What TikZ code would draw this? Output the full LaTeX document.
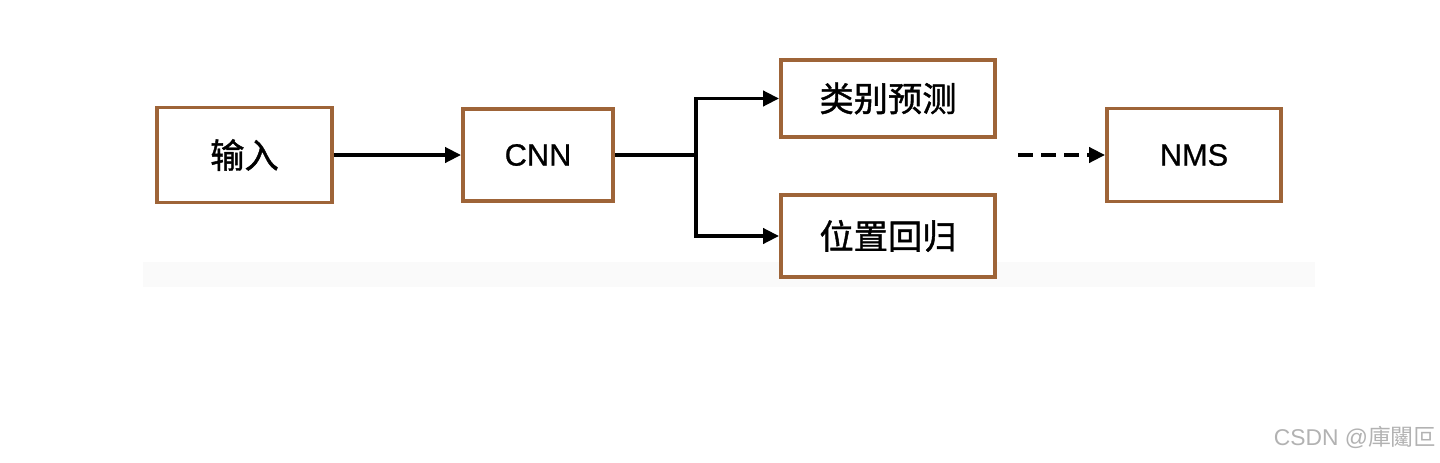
\documentclass[tikz,border=0pt]{standalone}
\usepackage{fontspec}
\setmainfont{Liberation Sans}
\newfontfamily\cjk{Noto Sans CJK SC}[FakeBold=1.2]
\newfontfamily\latn{Liberation Sans}[FakeBold=0.8]
\newfontfamily\cjktc{Noto Sans CJK TC}
\usetikzlibrary{positioning}
\usetikzlibrary{calc}
\usetikzlibrary{arrows.meta}
\definecolor{boxbrown}{RGB}{158,100,56}

\begin{document}
\begin{tikzpicture}[x=0.02cm, y=-0.02cm,
    stage/.style={draw=boxbrown, line width=2.2pt, fill=white, inner sep=0pt, font=\fontsize{19.5}{22}\selectfont\cjk},
    latin/.style={font=\fontsize{17.5}{20}\selectfont\latn},
    flow/.style={line width=2.2pt, -{Triangle[length=0.32cm, width=0.3cm]}}]
    \useasboundingbox (0,0) rectangle (1440,463);
    \fill[black!2] (143,262) rectangle (1315,287);

    \node[stage, minimum width=3.5cm, minimum height=1.9cm] (in) at (244.5,155) {输入};
    \node[stage, latin, minimum width=3.0cm, minimum height=1.84cm] (cnn) at (538,155) {CNN};
    \node[stage, minimum width=4.28cm, minimum height=1.54cm] (cls) at (888,98.5) {类别预测};
    \node[stage, minimum width=4.28cm, minimum height=1.64cm] (reg) at (888,236) {位置回归};
    \node[stage, latin, minimum width=3.48cm, minimum height=1.86cm] (nms) at (1194,155) {NMS};
    \coordinate (j) at (696,155);
    \coordinate (d) at (1018,155);

    \draw[flow] (in.east) -- (cnn.west);
    \draw[line width=2.2pt] (cnn.east) -- (j);
    \draw[flow] (j) |- (cls.west);
    \draw[flow] (j) |- (reg.west);
    \draw[flow, dash pattern=on 0.3cm off 0.16cm] (d) -- (nms.west);

    \node[anchor=east, text=black!30, font=\fontsize{13}{15}\selectfont, inner sep=0pt] (mark) at (1437,437) {CSDN @{\cjktc 庫闥叵}};
\end{tikzpicture}
\end{document}
